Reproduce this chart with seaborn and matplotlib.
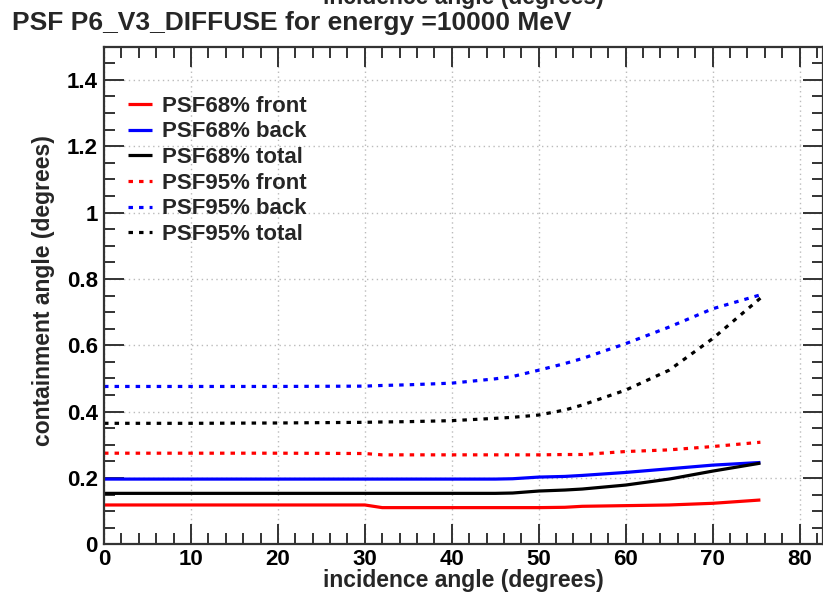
import numpy as np
import pandas as pd
import matplotlib
matplotlib.use("Agg")
import matplotlib.pyplot as plt
from matplotlib.ticker import MultipleLocator
import seaborn as sns

# Incidence angles (degrees) at which the containment radii were evaluated
angles = [0, 10, 20, 30, 32, 35, 40, 45, 47, 50, 53, 55, 60, 65, 70, 75.5]

# 68% and 95% containment angles (degrees)
psf68_front = [0.119, 0.119, 0.119, 0.119, 0.111, 0.111, 0.111, 0.111, 0.111, 0.111, 0.112,
               0.115, 0.117, 0.119, 0.124, 0.134]
psf68_back = [0.197, 0.197, 0.197, 0.197, 0.197, 0.197, 0.197, 0.197, 0.198, 0.203, 0.205,
              0.208, 0.217, 0.228, 0.239, 0.247]
psf68_total = [0.154, 0.154, 0.154, 0.154, 0.154, 0.154, 0.154, 0.154, 0.155, 0.161, 0.164,
               0.167, 0.179, 0.197, 0.221, 0.245]
psf95_front = [0.275, 0.275, 0.275, 0.274, 0.270, 0.270, 0.270, 0.270, 0.270, 0.270, 0.271,
               0.271, 0.280, 0.285, 0.295, 0.308]
psf95_back = [0.476, 0.476, 0.476, 0.477, 0.479, 0.481, 0.486, 0.499, 0.506, 0.525, 0.545,
              0.560, 0.605, 0.655, 0.710, 0.752]
psf95_total = [0.365, 0.365, 0.366, 0.368, 0.369, 0.370, 0.373, 0.380, 0.383, 0.390, 0.405,
               0.420, 0.465, 0.525, 0.620, 0.742]

series_names = ["PSF68% front", "PSF68% back", "PSF68% total",
                "PSF95% front", "PSF95% back", "PSF95% total"]
series_values = [psf68_front, psf68_back, psf68_total,
                 psf95_front, psf95_back, psf95_total]
series_colors = ["#ff0000", "#0000ff", "#000000", "#ff0000", "#0000ff", "#000000"]
dotted = (0, (1.4, 1.9))
series_styles = ["-", "-", "-", dotted, dotted, dotted]

frames = []
for name, vals in zip(series_names, series_values):
    frames.append(pd.DataFrame({"angle": angles, "containment": vals, "series": name}))
df = pd.concat(frames, ignore_index=True)

sns.set_theme(style="white")
plt.rcParams["font.family"] = ["Liberation Sans", "DejaVu Sans"]
plt.rcParams["font.weight"] = "bold"

fig = plt.figure(figsize=(8.23, 5.98), dpi=100)
ax = fig.add_axes([0.1264, 0.0895, 0.8736, 0.8327])

for name, color, ls in zip(series_names, series_colors, series_styles):
    sub = df[df["series"] == name]
    sns.lineplot(data=sub, x="angle", y="containment", ax=ax, color=color,
                 linestyle=ls, linewidth=2.3, label=name, estimator=None,
                 sort=False, dash_capstyle="butt", solid_capstyle="butt")

ax.set_xlim(0, 82.7)
ax.set_ylim(0, 1.5)
ax.xaxis.set_major_locator(MultipleLocator(10))
ax.xaxis.set_minor_locator(MultipleLocator(2))
ax.yaxis.set_minor_locator(MultipleLocator(0.05))
ax.set_yticks([0, 0.2, 0.4, 0.6, 0.8, 1.0, 1.2, 1.4])
ax.set_yticklabels(["0", "0.2", "0.4", "0.6", "0.8", "1", "1.2", "1.4"])

ax.tick_params(which="both", direction="in", top=True, right=True,
               bottom=True, left=True, colors="#333333", labelcolor="black",
               labelsize=16, width=1.4)
ax.tick_params(which="major", length=14.4)
ax.tick_params(which="minor", length=8)
ax.tick_params(axis="y", pad=4.5)
ax.tick_params(axis="x", pad=3.5)
for lab in ax.get_xticklabels() + ax.get_yticklabels():
    lab.set_fontweight("bold")

ax.grid(True, which="major", color="#bbbbbb", linestyle=(0, (1, 2.5)), linewidth=1)
for sp in ax.spines.values():
    sp.set_color("#333333")
    sp.set_linewidth(1.6)

ax.set_xlabel("incidence angle (degrees)", fontsize=16.5, fontweight="bold")
ax.set_ylabel("containment angle (degrees)", fontsize=16.5, fontweight="bold")
ax.xaxis.set_label_coords(0.5, -0.05)
ax.yaxis.set_label_coords(-0.068, 0.51)

leg = ax.legend(loc="upper left", bbox_to_anchor=(0.033, 0.901), frameon=False,
                fontsize=16, handlelength=1.1, handletextpad=0.45,
                labelspacing=0.21, borderpad=0, borderaxespad=0)
for t in leg.get_texts():
    t.set_fontweight("bold")

fig.text(0.015, 0.95, "PSF P6_V3_DIFFUSE for energy =10000 MeV", fontsize=19,
         fontweight="bold", ha="left", va="baseline")
fig.text(0.5626, 0.993, "incidence angle (degrees)", fontsize=16.5,
         fontweight="bold", ha="center", va="baseline")

fig.savefig("out.png", dpi=100)
